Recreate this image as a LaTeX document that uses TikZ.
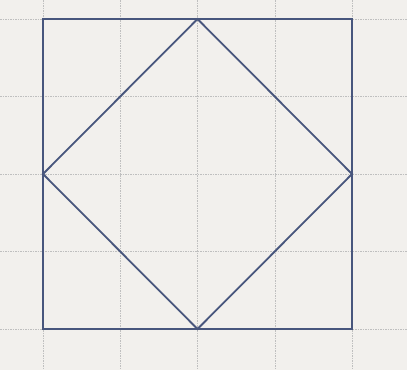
\documentclass[tikz,border=0pt]{standalone}
\definecolor{paper}{RGB}{242,240,237}
\definecolor{inkblue}{RGB}{72,86,125}
\begin{document}
\begin{tikzpicture}[x=1pt,y=-1pt,
  gridline/.style={draw=gray!50, line width=0.5pt, dash pattern=on 1.5pt off 1pt},
  sqline/.style={draw=inkblue, line width=1.8pt, line join=miter}]
\fill[paper] (0,0) rectangle (407,370);
\useasboundingbox (0,0) rectangle (407,370);
\foreach \x in {43,120.25,197.5,274.75,352} \draw[gridline] (\x,0) -- (\x,370);
\foreach \y in {19,96.5,174,251.5,329} \draw[gridline] (0,\y) -- (407,\y);
\coordinate (tl) at (43,19);
\coordinate (tr) at (352,19);
\coordinate (br) at (352,329);
\coordinate (bl) at (43,329);
\coordinate (t) at (197.5,19);
\coordinate (r) at (352,174);
\coordinate (b) at (197.5,329);
\coordinate (l) at (43,174);
\draw[sqline] (tl) -- (tr) -- (br) -- (bl) -- cycle;
\draw[sqline] (t) -- (r) -- (b) -- (l) -- cycle;
\end{tikzpicture}
\end{document}
